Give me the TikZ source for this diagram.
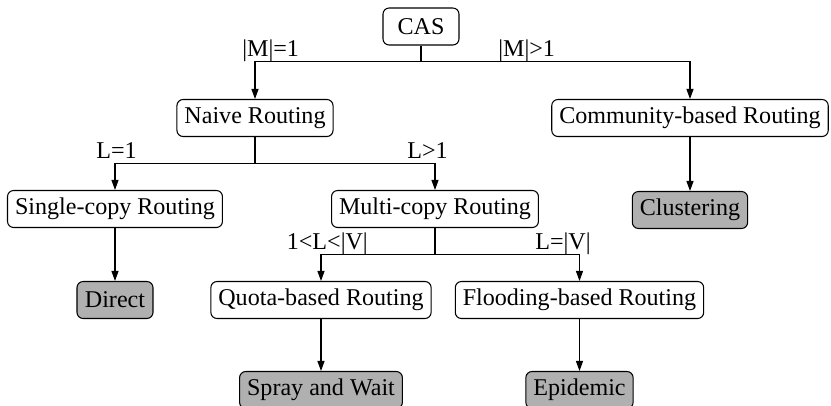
\documentclass[tikz,border=0pt]{standalone}
\usepackage{fontspec}
\setmainfont{Liberation Serif}
\usetikzlibrary{shapes, arrows.meta, positioning}

\begin{document}
\begin{tikzpicture}[
		font=\fontsize{13.7}{16}\selectfont,
		% --- BLOCK STYLES ---
		block_route/.style = {draw=black, fill=white, rectangle, minimum height=0.74cm, inner xsep=0.15cm, inner ysep=0pt, align=center, rounded corners=3.5pt, line width=0.6pt},
		block_leaf/.style = {block_route, fill=gray!62},
		cond_label/.style = {anchor=base west, inner sep=0pt},
		link/.style = {line width=0.6pt},
		>={Triangle[length=0.2cm, width=0.14cm]}
		]
		
		\useasboundingbox (-8.42,0.53) rectangle (8.2,-7.57);
		
		% =========================================================================
		% 1. BLOCKS
		% =========================================================================
		% Root
		\node [block_route, minimum width=1.52cm] (cas) at (0,0) {CAS};
		
		% Second level
		\node [block_route] (naive) [below left=1.83cm and 3.32cm of cas.center, anchor=center] {Naive Routing};
		\node [block_route] (community) [below right=1.83cm and 5.38cm of cas.center, anchor=center] {Community-based Routing};
		
		% Third level
		\node [block_route] (single) [below left=1.82cm and 2.8cm of naive.center, anchor=center] {Single-copy Routing};
		\node [block_route] (multi) [below right=1.82cm and 3.6cm of naive.center, anchor=center] {Multi-copy Routing};
		\node [block_leaf] (clustering) [below=1.84cm of community.center, anchor=center] {Clustering};
		
		% Fourth level
		\node [block_leaf, minimum width=1.52cm] (direct) [below=1.82cm of single.center, anchor=center] {Direct};
		\node [block_route] (quota) [below left=1.82cm and 2.28cm of multi.center, anchor=center] {Quota-based Routing};
		\node [block_route] (flooding) [below right=1.82cm and 2.89cm of multi.center, anchor=center] {Flooding-based Routing};
		
		% Bottom leaves (cut by the frame)
		\node [block_leaf] (spray) [below=1.8cm of quota.center, anchor=center] {Spray and Wait};
		\node [block_leaf] (epidemic) [below=1.8cm of flooding.center, anchor=center] {Epidemic};
		
		% =========================================================================
		% 2. BRANCHES
		% =========================================================================
		% Split at CAS
		\coordinate (j_cas) at ([yshift=-0.32cm]cas.south);
		\draw [link] (cas.south) -- (j_cas);
		\draw [link, ->] (j_cas) -| (naive.north);
		\draw [link, ->] (j_cas) -| (community.north);
		\node [cond_label] (lbl_m1) at ([xshift=-0.26cm, yshift=0.1cm]j_cas -| naive.north) {|M|=1};
		\node [cond_label] (lbl_mn) at ([xshift=1.54cm, yshift=0.1cm]j_cas) {|M|>1};
		
		% Split at Naive Routing
		\coordinate (j_naive) at ([yshift=-0.52cm]naive.south);
		\draw [link] (naive.south) -- (j_naive);
		\draw [link, ->] (j_naive) -| (single.north);
		\draw [link, ->] (j_naive) -| (multi.north);
		\node [cond_label] (lbl_l1) at ([xshift=-0.38cm, yshift=0.1cm]j_naive -| single.north) {L=1};
		\node [cond_label] (lbl_ln) at ([xshift=-0.56cm, yshift=0.1cm]j_naive -| multi.north) {L>1};
		
		% Split at Multi-copy Routing
		\coordinate (j_multi) at ([yshift=-0.52cm]multi.south);
		\draw [link] (multi.south) -- (j_multi);
		\draw [link, ->] (j_multi) -| (quota.north);
		\draw [link, ->] (j_multi) -| (flooding.north);
		\node [cond_label] (lbl_lq) at ([xshift=-0.69cm, yshift=0.1cm]j_multi -| quota.north) {1<L<|V|};
		\node [cond_label] (lbl_lv) at ([xshift=-0.89cm, yshift=0.1cm]j_multi -| flooding.north) {L=|V|};
		
		% Straight links to the leaves
		\draw [link, ->] (single) -- (direct);
		\draw [link, ->] (community) -- (clustering);
		\draw [link, ->] (quota) -- (spray);
		\draw [link, ->] (flooding) -- (epidemic);
		
	\end{tikzpicture}
\end{document}
